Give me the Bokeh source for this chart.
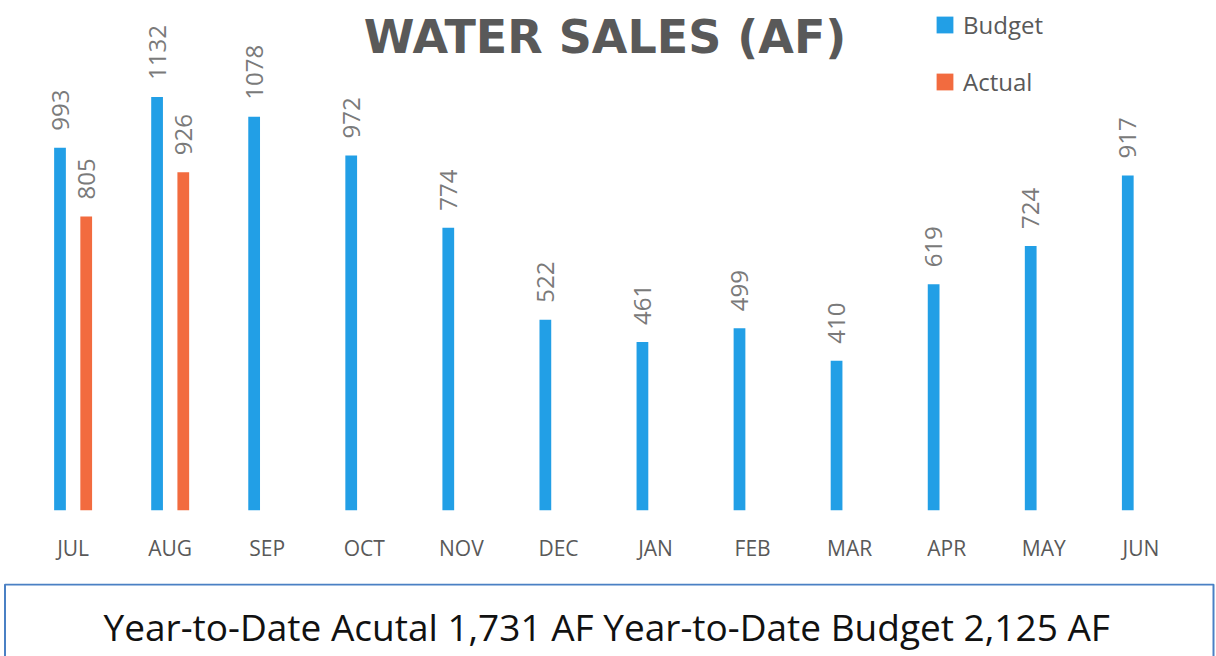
import math
from bokeh.plotting import figure
from bokeh.models import ColumnDataSource, Range1d, Legend, LegendItem, Label, FixedTicker, BoxAnnotation
from bokeh.transform import dodge
from bokeh.layouts import column
from bokeh.embed import file_html
from bokeh.resources import INLINE
from bokeh.core.properties import value

# ---- data ----
months = ["JUL", "AUG", "SEP", "OCT", "NOV", "DEC", "JAN", "FEB", "MAR", "APR", "MAY", "JUN"]
budget = [993, 1132, 1078, 972, 774, 522, 461, 499, 410, 619, 724, 917]
actual_months = ["JUL", "AUG"]
actual = [805, 926]
series_names = ["Budget", "Actual"]
title_text = "WATER SALES (AF)"
summary_text = "Year-to-Date Acutal 1,731 AF  Year-to-Date Budget 2,125 AF"

# ---- styles ----
BLUE = "#229FE6"
ORANGE = "#F26B3F"
GREY = "#595959"
LABEL_GREY = "#7a7a7a"
BOX_BLUE = "#4A80C4"
FONT = "Open Sans"

idx = list(range(len(months)))
pos = {m: i for i, m in enumerate(months)}
src_b = ColumnDataSource(dict(x=idx, val=budget, txt=[str(v) for v in budget]))
src_a = ColumnDataSource(dict(x=[pos[m] for m in actual_months], val=actual,
                              txt=[str(v) for v in actual]))

W_PX = 1216
p = figure(width=W_PX, height=583, x_range=Range1d(-0.748, 11.779), y_range=Range1d(0, 1396),
           output_backend="svg", toolbar_location=None, y_axis_location=None,
           min_border_left=0, min_border_right=0, min_border_top=0, min_border_bottom=73)
p.outline_line_color = None
p.grid.visible = False

OFF = 0.135
W = 0.121
r1 = p.vbar(x=dodge("x", -OFF), top="val", width=W, source=src_b,
            fill_color=BLUE, line_color=None)
r2 = p.vbar(x=dodge("x", OFF), top="val", width=W, source=src_a,
            fill_color=ORANGE, line_color=None)

for src, off in ((src_b, -OFF), (src_a, OFF)):
    p.text(x=dodge("x", off), y="val", text="txt", source=src,
           angle=math.pi / 2, text_align="left", text_baseline="middle", y_offset=-17,
           text_font=value(FONT), text_font_size="24px", text_color=LABEL_GREY)

ax = p.xaxis[0]
ax.ticker = FixedTicker(ticks=idx)
ax.major_label_overrides = {i: m for i, m in zip(idx, months)}
ax.axis_line_color = None
ax.major_tick_line_color = None
ax.minor_tick_line_color = None
ax.major_tick_out = 0
ax.major_tick_in = 0
ax.minor_tick_out = 0
ax.major_label_standoff = 23
ax.major_label_text_font = FONT
ax.major_label_text_font_size = "21px"
ax.major_label_text_color = GREY

p.add_layout(Label(x=5.48, y=1295, text=title_text, text_align="center", text_baseline="alphabetic",
                   text_font="DejaVu Sans", text_font_size="46px", text_font_style="bold",
                   text_color=GREY))

legend = Legend(items=[LegendItem(label=series_names[0], renderers=[r1]),
                       LegendItem(label=series_names[1], renderers=[r2])],
                location=(934, 412), glyph_width=21, glyph_height=21, label_height=17,
                label_standoff=8, spacing=24, padding=0, margin=0,
                border_line_color=None, background_fill_alpha=0,
                label_text_font=FONT, label_text_font_size="24px", label_text_color=GREY)
p.add_layout(legend)

b = figure(width=W_PX, height=73, x_range=Range1d(0, W_PX), y_range=Range1d(0, 73),
           x_axis_location=None, y_axis_location=None, output_backend="svg",
           toolbar_location=None, min_border_left=0, min_border_right=0,
           min_border_top=0, min_border_bottom=0)
b.outline_line_color = None
b.grid.visible = False
b.add_layout(BoxAnnotation(left=4.5, right=1213, top=72, bottom=-30, fill_alpha=0,
                           line_color=BOX_BLUE, line_alpha=1, line_width=2))
b.text(x=[611], y=[30], text=[summary_text], text_align="center", text_baseline="alphabetic",
       text_font=value(FONT), text_font_size="37px", text_color="#111111")

layout = column(p, b, spacing=0)
open("out.html", "w").write(file_html(layout, INLINE))
